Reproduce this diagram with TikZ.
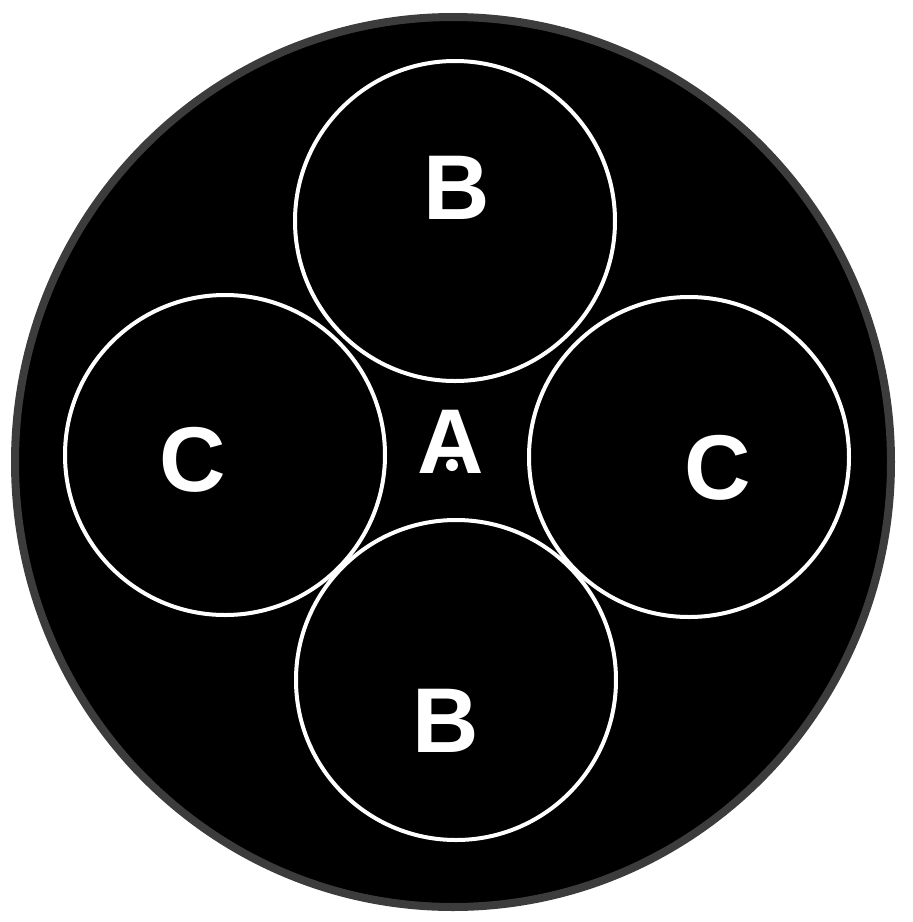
\documentclass[tikz,border=0pt]{standalone}
\usepackage{fontspec}
\setsansfont{Liberation Sans}
\usetikzlibrary{positioning}
\definecolor{DiskRim}{HTML}{3C3C3C}
\tikzset{
  disk/.style={fill=black,draw=DiskRim,line width=4pt},
  ring/.style={circle,draw=white,line width=2pt,inner sep=0pt,minimum size=160pt},
  letter/.style={text=white,font=\sffamily\bfseries\fontsize{46}{46}\selectfont,inner sep=0pt}
}
\begin{document}
\begin{tikzpicture}[x=0.5pt,y=-0.5pt]
\useasboundingbox (0,0) rectangle (913,922);
\draw[disk] (453,462) ellipse [x radius=438, y radius=445];
% the four rings
\node[ring] (btop) at (455,221) {};
\node[ring] (cleft) at (225,455) {};
\node[ring] (cright) at (689,457) {};
\node[ring] (bbot) at (456,680) {};
% letters
\node[letter] (lbtop) at (457,188) {B};
\node[letter] (lcleft) at (193,460) {C};
\node[letter] (la) at (451,442) {A};
\node[letter] (lcright) at (718,468) {C};
\node[letter] (lbbot) at (446,721) {B};
\fill[white] (452,465) circle (3pt);
\end{tikzpicture}
\end{document}
